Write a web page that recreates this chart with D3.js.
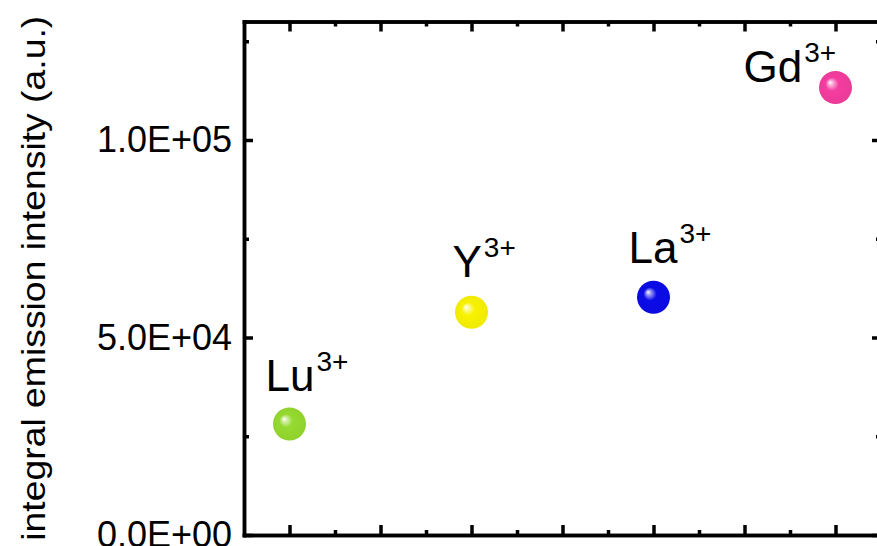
<!DOCTYPE html>
<html>
<head>
<meta charset="utf-8">
<script src="https://cdn.jsdelivr.net/npm/d3@7"></script>
<style>
  body { margin: 0; background: #fff; }
  svg { display: block; font-family: Arial, "Liberation Sans", sans-serif; }
</style>
</head>
<body>
<svg id="chart" width="877" height="546"></svg>
<script>
// Integral emission intensity for each host cation
const ions = ["Lu", "Y", "La", "Gd"];
const ionCharge = "3+";
const ionPosition = [1, 3, 5, 7];
const intensity = [28100, 56400, 60200, 113300];
const ionColors = ["#95da30", "#f8f200", "#0b0be8", "#f43d9f"];

const yMajorTicks = [0, 50000, 100000];
const yMinorTicks = [25000, 75000, 125000];
const xMajorTicks = [1, 2, 3, 4, 5, 6, 7];
const xMinorTicks = [1.5, 2.5, 3.5, 4.5, 5.5, 6.5];
const yTitle = "integral emission intensity (a.u.)";

// layout
const plot = { left: 244, right: 881, top: 21.5, bottom: 535 };
const labelOffsets = [[-24, -33], [-19, -35], [-25, -34], [-92, -5]];
const ballRadius = 16.5;
const axisWidth = 3.5;

const svg = d3.select("#chart");

const x = d3.scaleLinear().domain([0.5, 7.5]).range([plot.left, plot.right]);
const y = d3.scaleLinear().domain([0, 130000]).range([plot.bottom, plot.top]);

// scientific notation like 1.0E+05
function sci(v) {
  if (v === 0) return "0.0E+00";
  const e = Math.floor(Math.log10(Math.abs(v)));
  const m = v / Math.pow(10, e);
  return m.toFixed(1) + "E" + (e >= 0 ? "+" : "-") + String(Math.abs(e)).padStart(2, "0");
}

function styleAxis(g) {
  g.selectAll("path.domain").attr("stroke", "#000").attr("stroke-width", axisWidth)
    .attr("stroke-linecap", "square");
  g.selectAll(".tick line").attr("stroke", "#000").attr("stroke-width", axisWidth);
}

// minor ticks (drawn first, no labels)
svg.append("g").attr("transform", `translate(0,${plot.bottom})`)
  .call(d3.axisBottom(x).tickValues(xMinorTicks).tickSizeInner(-5).tickSizeOuter(0).tickFormat(""))
  .call(styleAxis);
svg.append("g").attr("transform", `translate(0,${plot.top})`)
  .call(d3.axisTop(x).tickValues(xMinorTicks).tickSizeInner(-5).tickSizeOuter(0).tickFormat(""))
  .call(styleAxis);
svg.append("g").attr("transform", `translate(${plot.left},0)`)
  .call(d3.axisLeft(y).tickValues(yMinorTicks).tickSizeInner(-5).tickSizeOuter(0).tickFormat(""))
  .call(styleAxis);
svg.append("g").attr("transform", `translate(${plot.right},0)`)
  .call(d3.axisRight(y).tickValues(yMinorTicks).tickSizeInner(-5).tickSizeOuter(0).tickFormat(""))
  .call(styleAxis);

// major ticks
svg.append("g").attr("transform", `translate(0,${plot.bottom})`)
  .call(d3.axisBottom(x).tickValues(xMajorTicks).tickSizeInner(-10).tickSizeOuter(0).tickFormat(""))
  .call(styleAxis);
svg.append("g").attr("transform", `translate(0,${plot.top})`)
  .call(d3.axisTop(x).tickValues(xMajorTicks).tickSizeInner(-10).tickSizeOuter(0).tickFormat(""))
  .call(styleAxis);
svg.append("g").attr("transform", `translate(${plot.right},0)`)
  .call(d3.axisRight(y).tickValues(yMajorTicks).tickSizeInner(-9).tickSizeOuter(0).tickFormat(""))
  .call(styleAxis);
const yAxis = svg.append("g").attr("transform", `translate(${plot.left},0)`)
  .call(d3.axisLeft(y).tickValues(yMajorTicks).tickSizeInner(-9).tickSizeOuter(0)
    .tickPadding(12).tickFormat(sci))
  .call(styleAxis);
yAxis.selectAll(".tick text")
  .attr("font-size", 36).attr("fill", "#000")
  .attr("font-family", "Arial, 'Liberation Sans', sans-serif");

// axis title
svg.append("text")
  .attr("transform", `translate(45,${(plot.top + plot.bottom) / 2}) rotate(-90)`)
  .attr("text-anchor", "middle")
  .attr("font-size", 33)
  .attr("textLength", 525)
  .attr("lengthAdjust", "spacingAndGlyphs")
  .attr("fill", "#000")
  .text(yTitle);

// glossy sphere gradients
const defs = svg.append("defs");
ionColors.forEach((c, i) => {
  const base = d3.color(c);
  const grad = defs.append("radialGradient")
    .attr("id", "ball" + i)
    .attr("cx", "50%").attr("cy", "50%").attr("r", "50%")
    .attr("fx", "33%").attr("fy", "34%");
  grad.append("stop").attr("offset", "0%").attr("stop-color", "#ffffff");
  grad.append("stop").attr("offset", "14%").attr("stop-color", d3.interpolateRgb("#ffffff", c)(0.4));
  grad.append("stop").attr("offset", "40%").attr("stop-color", c);
  grad.append("stop").attr("offset", "100%").attr("stop-color", base.darker(0.1).formatHex());
});

const points = ions.map((name, i) => ({
  name, pos: ionPosition[i], value: intensity[i], idx: i
}));

svg.append("g").selectAll("circle")
  .data(points)
  .join("circle")
  .attr("cx", d => x(d.pos))
  .attr("cy", d => y(d.value))
  .attr("r", ballRadius)
  .attr("fill", d => `url(#ball${d.idx})`);

// ion labels with superscript charge
const labels = svg.append("g").selectAll("text")
  .data(points)
  .join("text")
  .attr("x", d => x(d.pos) + labelOffsets[d.idx][0])
  .attr("y", d => y(d.value) + labelOffsets[d.idx][1])
  .attr("font-size", 44)
  .attr("fill", "#000");
labels.append("tspan").text(d => d.name);
labels.append("tspan").attr("font-size", 28).attr("dy", -20).attr("dx", 2).text(ionCharge);
</script>
</body>
</html>
